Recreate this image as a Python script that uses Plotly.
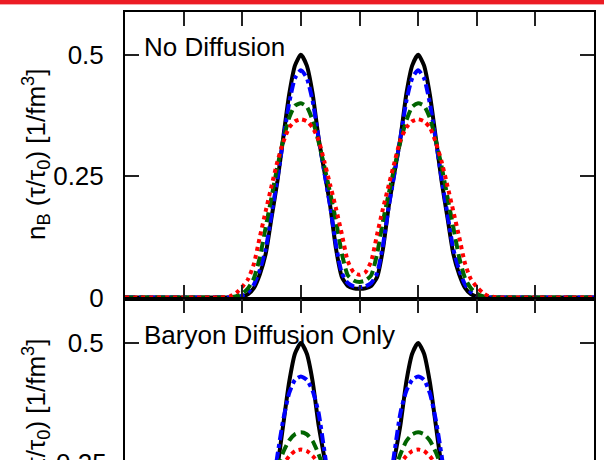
import plotly.graph_objects as go

# space-time rapidity grid
eta_s = [-4.0, -2.5, -2.4, -2.3, -2.2, -2.1, -2.0, -1.9, -1.8, -1.7, -1.6, -1.5, -1.4, -1.3,
         -1.2, -1.1, -1.0, -0.9, -0.8, -0.7, -0.6, -0.5, -0.4, -0.3, -0.2, -0.1, 0.0,
         0.1, 0.2, 0.3, 0.4, 0.5, 0.6, 0.7, 0.8, 0.9, 1.0, 1.1, 1.2, 1.3, 1.4, 1.5,
         1.6, 1.7, 1.8, 1.9, 2.0, 2.1, 2.2, 2.3, 2.4, 2.5, 4.0]

# initial profile (black), same in both panels
nb_initial = [0, 0, 0, 0, 0, 0, 0.002, 0.007, 0.02, 0.048, 0.09, 0.165, 0.24, 0.33, 0.418, 0.478,
              0.50, 0.478, 0.42, 0.33, 0.26, 0.189, 0.10, 0.042, 0.024, 0.019, 0.018,
              0.019, 0.024, 0.042, 0.10, 0.189, 0.26, 0.33, 0.42, 0.478, 0.50, 0.478, 0.418,
              0.33, 0.24, 0.165, 0.09, 0.048, 0.02, 0.007, 0.002, 0, 0, 0, 0, 0, 0]

# top panel: No Diffusion
nodiff_blue = [0, 0, 0, 0, 0, 0.001, 0.004, 0.011, 0.027, 0.057, 0.10, 0.172, 0.245, 0.325, 0.40,
               0.452, 0.468, 0.452, 0.405, 0.33, 0.258, 0.188, 0.108, 0.05, 0.03, 0.023, 0.021,
               0.023, 0.03, 0.05, 0.108, 0.188, 0.258, 0.33, 0.405, 0.452, 0.468, 0.452, 0.40,
               0.325, 0.245, 0.172, 0.10, 0.057, 0.027, 0.011, 0.004, 0.001, 0, 0, 0, 0, 0]
nodiff_green = [0, 0, 0, 0, 0.001, 0.003, 0.008, 0.019, 0.04, 0.083, 0.145, 0.207, 0.27, 0.325,
                0.37, 0.395, 0.40, 0.393, 0.365, 0.322, 0.27, 0.215, 0.157, 0.09, 0.046, 0.035,
                0.032, 0.035, 0.046, 0.09, 0.157, 0.215, 0.27, 0.322, 0.365, 0.393, 0.40, 0.395,
                0.37, 0.325, 0.27, 0.207, 0.145, 0.083, 0.04, 0.019, 0.008, 0.003, 0.001, 0, 0, 0, 0]
nodiff_red = [0, 0, 0, 0.001, 0.003, 0.01, 0.022, 0.038, 0.07, 0.125, 0.178, 0.23, 0.28, 0.32,
              0.35, 0.363, 0.367, 0.363, 0.35, 0.325, 0.28, 0.232, 0.183, 0.13, 0.075, 0.052,
              0.047, 0.052, 0.075, 0.13, 0.183, 0.232, 0.28, 0.325, 0.35, 0.363, 0.367, 0.363,
              0.35, 0.32, 0.28, 0.23, 0.178, 0.125, 0.07, 0.038, 0.022, 0.01, 0.003, 0.001, 0, 0, 0]

# bottom panel: Baryon Diffusion Only
bdiff_blue = [0, 0, 0, 0, 0.001, 0.003, 0.008, 0.017, 0.033, 0.062, 0.11, 0.18, 0.265, 0.34, 0.395,
              0.423, 0.43, 0.423, 0.40, 0.355, 0.275, 0.19, 0.115, 0.065, 0.04, 0.03, 0.028,
              0.03, 0.04, 0.065, 0.115, 0.19, 0.275, 0.355, 0.40, 0.423, 0.43, 0.423, 0.395,
              0.34, 0.265, 0.18, 0.11, 0.062, 0.033, 0.017, 0.008, 0.003, 0.001, 0, 0, 0, 0]
bdiff_green = [0, 0.001, 0.003, 0.007, 0.014, 0.025, 0.04, 0.06, 0.088, 0.12, 0.158, 0.2, 0.24,
               0.272, 0.296, 0.309, 0.313, 0.309, 0.295, 0.268, 0.235, 0.2, 0.165, 0.135, 0.115,
               0.103, 0.1, 0.103, 0.115, 0.135, 0.165, 0.2, 0.235, 0.268, 0.295, 0.309, 0.313,
               0.309, 0.296, 0.272, 0.24, 0.2, 0.158, 0.12, 0.088, 0.06, 0.04, 0.025, 0.014,
               0.007, 0.003, 0.001, 0]
bdiff_red = [0, 0.005, 0.01, 0.017, 0.027, 0.04, 0.058, 0.08, 0.105, 0.133, 0.163, 0.194, 0.222,
             0.246, 0.263, 0.274, 0.277, 0.274, 0.264, 0.248, 0.228, 0.205, 0.183, 0.164, 0.15,
             0.142, 0.14, 0.142, 0.15, 0.164, 0.183, 0.205, 0.228, 0.248, 0.264, 0.274, 0.277,
             0.274, 0.263, 0.246, 0.222, 0.194, 0.163, 0.133, 0.105, 0.08, 0.058, 0.04, 0.027,
             0.017, 0.01, 0.005, 0]

panel_labels = ["No Diffusion", "Baryon Diffusion Only"]
ytick_vals = [0, 0.25, 0.5]
ytick_text = ["0", "0.25", "0.5"]
ytitle = "n<sub>B</sub> (τ/τ<sub>0</sub>) [1/fm<sup>3</sup>]"

FONT = "Liberation Sans, Arial, Helvetica, sans-serif"
W, H = 604, 460
ML, MR, MT, MB = 125, 10, 12, 0
PW, PH = W - ML - MR, H - MT - MB
split = (H - 299) / PH  # paper y of the panel boundary

styles = [
    dict(color="#000000", width=4, dash="solid"),
    dict(color="#0000ff", width=4, dash="10px,4px,4px,4px"),
    dict(color="#006400", width=4, dash="10px,5px"),
    dict(color="#ff0000", width=4, dash="4px,4px"),
]

fig = go.Figure()
top_series = [nb_initial, nodiff_blue, nodiff_green, nodiff_red]
bot_series = [nb_initial, bdiff_blue, bdiff_green, bdiff_red]
for ys, st in zip(top_series, styles):
    fig.add_trace(go.Scatter(x=eta_s, y=ys, mode="lines", line=dict(shape="spline", smoothing=0.6, **st),
                             xaxis="x", yaxis="y", showlegend=False, hoverinfo="skip"))
for ys, st in zip(bot_series, styles):
    fig.add_trace(go.Scatter(x=eta_s, y=ys, mode="lines", line=dict(shape="spline", smoothing=0.6, **st),
                             xaxis="x2", yaxis="y2", showlegend=False, hoverinfo="skip"))

axis_common = dict(showgrid=False, zeroline=False, showline=True, linecolor="black", linewidth=2,
                   ticks="inside", ticklen=14, tickwidth=1.5, tickcolor="#222222", automargin=False)

fig.update_layout(
    width=W, height=H,
    margin=dict(l=ML, r=MR, t=MT, b=MB, pad=0, autoexpand=False),
    paper_bgcolor="white", plot_bgcolor="white",
    font=dict(family=FONT, size=26, color="black"),
    xaxis=dict(domain=[0, 1], anchor="y", range=[-4, 4], dtick=1, tick0=0, mirror="ticks",
               showticklabels=False, **axis_common),
    yaxis=dict(domain=[split, 1], anchor="x", range=[-0.003, 0.588], tickvals=ytick_vals,
               ticktext=ytick_text, mirror="ticks", ticklabelstandoff=14,
               tickfont=dict(family=FONT, size=26), **axis_common),
    xaxis2=dict(domain=[0, 1], anchor="y2", range=[-4, 4], dtick=1, tick0=0, side="top",
                mirror=False, showticklabels=False, **axis_common),
    yaxis2=dict(domain=[0, split], anchor="x2", range=[0.2552, 0.592], tickvals=ytick_vals[2:],
                ticktext=ytick_text[2:], mirror="ticks", ticklabelstandoff=14,
                tickfont=dict(family=FONT, size=26), **axis_common),
)

annotations = [
    dict(text=panel_labels[0], xref="paper", yref="paper", x=(142 - ML) / PW, y=(H - 47) / PH,
         xanchor="left", yanchor="middle", showarrow=False, font=dict(family=FONT, size=26)),
    dict(text=panel_labels[1], xref="paper", yref="paper", x=(142 - ML) / PW, y=(H - 335) / PH,
         xanchor="left", yanchor="middle", showarrow=False, font=dict(family=FONT, size=26)),
    dict(text=ytitle, xref="paper", yref="paper", x=(36 - ML) / PW, y=(H - 155) / PH,
         xanchor="center", yanchor="middle", textangle=-90, showarrow=False,
         font=dict(family=FONT, size=26)),
    dict(text=ytitle, xref="paper", yref="paper", x=(36 - ML) / PW, y=(H - 425) / PH,
         xanchor="center", yanchor="middle", textangle=-90, showarrow=False,
         font=dict(family=FONT, size=26)),
    dict(text=ytick_text[1], xref="paper", yref="paper", x=(109 - ML) / PW, y=(H - 463) / PH,
         xanchor="right", yanchor="middle", showarrow=False, font=dict(family=FONT, size=26)),
]
fig.update_layout(annotations=annotations)

# red banner at the top of the page
fig.add_shape(type="rect", xref="paper", yref="paper", x0=-ML / PW - 0.01, x1=1 + MR / PW + 0.01,
              y0=(H - 4) / PH, y1=(H + 2) / PH, fillcolor="#ec1c24", line=dict(width=0), layer="above")
fig.add_shape(type="rect", xref="paper", yref="paper", x0=-ML / PW - 0.01, x1=1 + MR / PW + 0.01,
              y0=(H - 5) / PH, y1=(H - 4) / PH, fillcolor="#f6a7ab", line=dict(width=0), layer="above")

fig.write_html("out.html")
